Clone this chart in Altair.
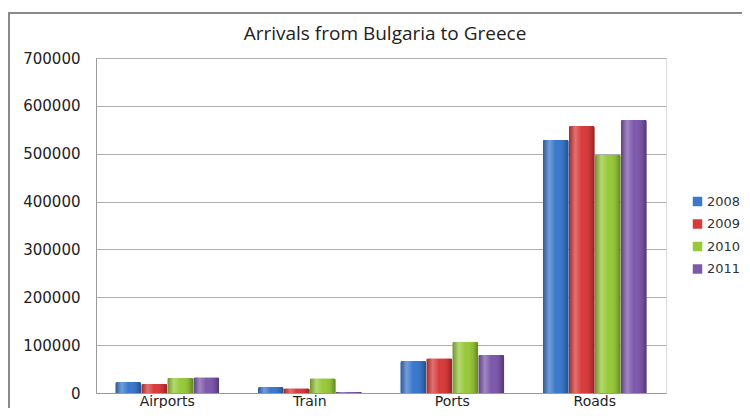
import altair as alt
import pandas as pd

categories = ["Airports", "Train", "Ports", "Roads"]
years = ["2008", "2009", "2010", "2011"]
values_2008 = [22800, 12400, 67000, 529000]
values_2009 = [19300, 9700, 72400, 558000]
values_2010 = [31700, 31000, 107000, 498000]
values_2011 = [33100, 2000, 80000, 571000]
colors = ["#3a78cc", "#d83a3a", "#98c93a", "#7d58ab"]
y_ticks = [0, 100000, 200000, 300000, 400000, 500000, 600000, 700000]

series = [values_2008, values_2009, values_2010, values_2011]
rows = []
for yr, vals in zip(years, series):
    for cat, v in zip(categories, vals):
        rows.append({"mode": cat, "year": yr, "arrivals": v})
df = pd.DataFrame(rows)

FONT = "DejaVu Sans"

x_enc = alt.X("mode:N", sort=categories,
              scale=alt.Scale(paddingInner=0.27, paddingOuter=0.135),
              axis=alt.Axis(title=None, labelAngle=0, labelFont=FONT, labelFontSize=14,
                            labelColor="#222", ticks=False, labelPadding=1,
                            domainColor="#999", domainWidth=1))
y_enc = alt.Y("arrivals:Q",
              scale=alt.Scale(domain=[0, 700000], nice=False),
              axis=alt.Axis(title=None, values=y_ticks, format="d", labelFont=FONT,
                            labelFontSize=15, labelColor="#222", ticks=False,
                            labelPadding=16, gridColor="#b0b0b0", gridWidth=1,
                            domainColor="#999", domainWidth=1))
xoff = alt.XOffset("year:N", sort=years, scale=alt.Scale(paddingInner=0, paddingOuter=0))

bars = alt.Chart(df).mark_bar(cornerRadiusTopLeft=2, cornerRadiusTopRight=2).encode(
    x=x_enc, y=y_enc, xOffset=xoff,
    color=alt.Color("year:N", sort=years,
                    scale=alt.Scale(domain=years, range=colors),
                    legend=alt.Legend(title=None, orient="none", legendX=595, legendY=137,
                                      symbolType="square", symbolSize=90,
                                      symbolStrokeWidth=0, labelFont=FONT,
                                      labelFontSize=13, labelColor="#333",
                                      labelOffset=3, rowPadding=8.5)),
)

shade = alt.LinearGradient(
    gradient="linear", x1=0, x2=1, y1=0, y2=0,
    stops=[
        alt.GradientStop(color="rgba(0,0,0,0.28)", offset=0),
        alt.GradientStop(color="rgba(255,255,255,0.28)", offset=0.25),
        alt.GradientStop(color="rgba(255,255,255,0.0)", offset=0.5),
        alt.GradientStop(color="rgba(0,0,0,0.08)", offset=0.8),
        alt.GradientStop(color="rgba(0,0,0,0.35)", offset=1),
    ],
)
gloss = alt.Chart(df).mark_bar(fill=shade, cornerRadiusTopLeft=2, cornerRadiusTopRight=2).encode(
    x=x_enc, y=y_enc, xOffset=xoff,
)

frame_df = pd.DataFrame({"k": [0]})
left_border = alt.Chart(frame_df).mark_rule(color="#8a8a8a", strokeWidth=2).encode(
    x=alt.value(-87), y=alt.value(-45), y2=alt.value(360))
top_border = alt.Chart(frame_df).mark_rule(color="#8a8a8a", strokeWidth=2).encode(
    x=alt.value(-88), x2=alt.value(660), y=alt.value(-45))

chart = alt.layer(bars, gloss, left_border, top_border).properties(
    width=570, height=335,
    title=alt.TitleParams("Arrivals from Bulgaria to Greece", font="Open Sans",
                          fontSize=19, fontWeight="normal", color="#222",
                          anchor="middle", offset=0, dx=4, dy=32),
    autosize=alt.AutoSizeParams(type="none"),
    padding={"left": 88, "top": 50, "right": 76, "bottom": 15},
).configure_view(strokeWidth=0, stroke="transparent").configure(background="white")

chart.save("out.html", embed_options={"renderer": "svg", "actions": False})
